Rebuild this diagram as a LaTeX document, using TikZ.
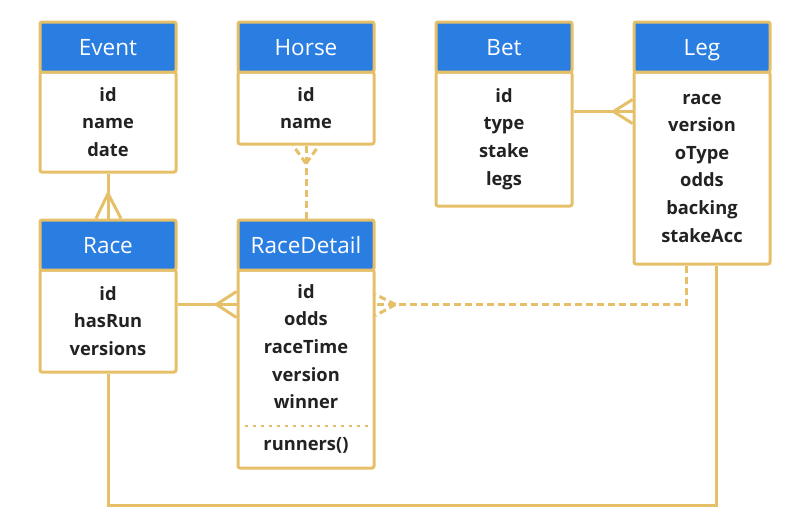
\documentclass[tikz,border=0pt]{standalone}
\usepackage{fontspec}
\setmainfont{Open Sans}
\usetikzlibrary{calc}
\definecolor{gold}{HTML}{E6C068}
\definecolor{hdrblue}{HTML}{2A7DE1}
\definecolor{ink}{HTML}{222222}
\tikzset{
  hdr/.style={draw=gold,fill=hdrblue,line width=3pt,rounded corners=2pt,
    minimum width=136pt,minimum height=50pt,inner sep=0pt,text=white,
    text height=18pt,text depth=2pt,
    font=\fontsize{22.5}{26}\selectfont},
  attrs/.style={draw=gold,fill=white,line width=3pt,rounded corners=2pt,
    minimum width=136pt,inner sep=0pt,align=center,text=ink,
    font=\fontsize{18.3}{27.6}\selectfont\bfseries},
  rel/.style={draw=gold,line width=3pt},
  reld/.style={rel,dash pattern=on 7pt off 4pt},
}
\begin{document}
\begin{tikzpicture}[x=1pt,y=-1pt]
  \useasboundingbox (0,0) rectangle (810,528);
  % Entities, top row
  \node[attrs,minimum height=100pt] (eventb) at (108,122) {id\\name\\date};
  \node[hdr] (event) at (108,47) {Event};
  \node[attrs,minimum height=72pt] (horseb) at (306,108) {id\\name};
  \node[hdr] (horse) at (306,47) {Horse};
  \node[attrs,minimum height=134pt] (betb) at (504,139) {id\\type\\stake\\legs};
  \node[hdr] (bet) at (504,47) {Bet};
  \node[attrs,minimum height=192pt] (legb) at (702,168) {race\\version\\oType\\odds\\backing\\stakeAcc};
  \node[hdr] (leg) at (702,47) {Leg};
  % Entities, bottom row
  \node[attrs,minimum height=102pt] (raceb) at (108,321) {id\\hasRun\\versions};
  \node[hdr] (race) at (108,245) {Race};
  \node[attrs,minimum height=198pt] (rdb) at (306,369) {id\\odds\\raceTime\\version\\winner\\[14.5pt]runners()};
  \node[hdr] (rd) at (306,245) {RaceDetail};
  \draw[gold,line width=2.2pt,dash pattern=on 3pt off 5pt] ($(rdb.west)+(8,57)$) -- ($(rdb.east)+(-8,57)$);
  % Anchor points
  \coordinate (racer) at ($(raceb.north east)+(0,36)$);
  \coordinate (rdl) at ($(rdb.north west)+(0,36)$);
  \coordinate (rdr) at ($(rdb.north east)+(0,36)$);
  \coordinate (betr) at ($(betb.north east)+(0,41)$);
  \coordinate (legl) at ($(legb.north west)+(0,41)$);
  \coordinate (legd) at ($(legb.south)+(-16,0)$);
  \coordinate (legs) at ($(legb.south)+(14,0)$);
  % Event -- Race
  \draw[rel] (eventb.south) -- (race.north);
  \draw[rel] ($(race.north)+(0,-25)$) -- ($(race.north)+(-12,0)$)
             ($(race.north)+(0,-25)$) -- ($(race.north)+(13,0)$);
  % Horse -- RaceDetail
  \draw[reld] (rd.north) -- (horseb.south);
  \draw[reld] ($(horseb.south)+(0,18)$) -- ($(horseb.south)+(-13,0)$)
              ($(horseb.south)+(0,18)$) -- ($(horseb.south)+(13,0)$);
  % Race -- RaceDetail
  \draw[rel] (racer) -- (rdl);
  \draw[rel] ($(rdl)+(-20,0)$) -- ($(rdl)+(0,-13)$)
             ($(rdl)+(-20,0)$) -- ($(rdl)+(0,13)$);
  % Bet -- Leg
  \draw[rel] (betr) -- (legl);
  \draw[rel] ($(legl)+(-19,0)$) -- ($(legl)+(0,-12)$)
             ($(legl)+(-19,0)$) -- ($(legl)+(0,12)$);
  % Leg -- RaceDetail
  \draw[reld] (legd) |- (rdr);
  \draw[reld] ($(rdr)+(20,0)$) -- ($(rdr)+(0,-10)$)
              ($(rdr)+(20,0)$) -- ($(rdr)+(0,11)$);
  % Race -- Leg
  \draw[rel] (raceb.south) |- ($(legs)+(0,240)$) -- (legs);
\end{tikzpicture}
\end{document}
